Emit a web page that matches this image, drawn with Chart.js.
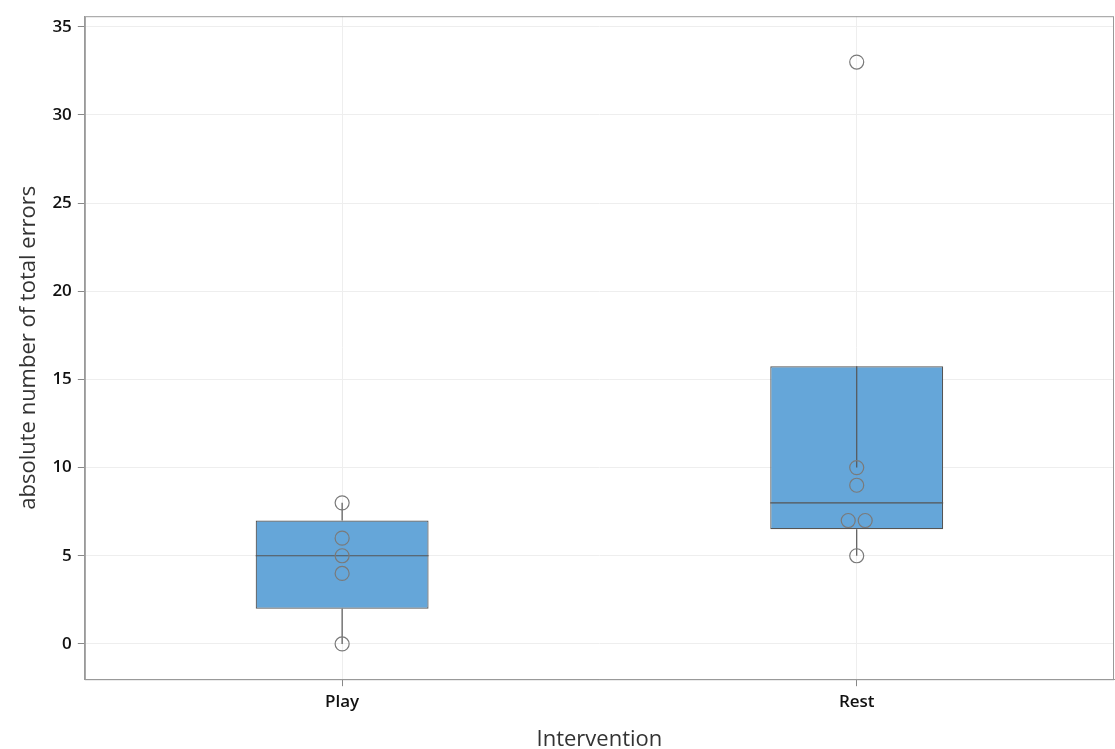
<!DOCTYPE html>
<html>
<head>
<meta charset="utf-8">
<script src="https://cdn.jsdelivr.net/npm/chart.js@4"></script>
<style>
  html, body { margin: 0; padding: 0; background: #fff; }
  #wrap { width: 1115px; height: 749px; }
</style>
</head>
<body>
<div id="wrap"><canvas id="boxChart"></canvas></div>
<script>
// ===== данные =====
const groups = ['Play', 'Rest'];
const q1 = [2, 6.5];
const q3 = [7, 15.75];
const medians = [5, 8];
const whiskerLow = [0, 5];
const whiskerHigh = [8, 10];
const playValues = [0, 4, 5, 6, 8];
const restValues = [5, 7, 7, 9, 10, 33];
const restJitter = [0, -0.0165, 0.0165, 0, 0, 0];
const yTicks = [0, 5, 10, 15, 20, 25, 30, 35];

const points = [
    ...playValues.map(v => ({ x: 0, y: v })),
    ...restValues.map((v, i) => ({ x: 1 + restJitter[i], y: v }))
];

// рамка, медианы и усы
const boxPlugin = {
    id: 'boxParts',
    afterDatasetDraw(chart, args) {
        if (args.index !== 0) return;
        const ctx = chart.ctx;
        const meta = chart.getDatasetMeta(0);
        const y = chart.scales.y;
        ctx.save();
        ctx.strokeStyle = '#555';
        ctx.lineWidth = 1.2;
        meta.data.forEach((bar, i) => {
            const half = bar.width / 2;
            ctx.beginPath();
            ctx.moveTo(bar.x - half, y.getPixelForValue(medians[i]));
            ctx.lineTo(bar.x + half, y.getPixelForValue(medians[i]));
            ctx.moveTo(bar.x, y.getPixelForValue(q1[i]));
            ctx.lineTo(bar.x, y.getPixelForValue(whiskerLow[i]));
            ctx.moveTo(bar.x, y.getPixelForValue(q3[i]));
            ctx.lineTo(bar.x, y.getPixelForValue(whiskerHigh[i]));
            ctx.stroke();
        });
        ctx.restore();
    },
    afterDraw(chart) {
        const a = chart.chartArea;
        const ctx = chart.ctx;
        ctx.save();
        ctx.strokeStyle = '#999';
        ctx.lineWidth = 1;
        ctx.strokeRect(a.left + 0.5, a.top + 0.5, a.right - a.left - 1, a.bottom - a.top);
        ctx.restore();
    }
};

new Chart(document.getElementById('boxChart'), {
    type: 'bar',
    data: {
        labels: groups,
        datasets: [{
            type: 'bar',
            data: q1.map((v, i) => [v, q3[i]]),
            backgroundColor: '#65a6d9',
            borderColor: '#555',
            borderWidth: 1.2,
            borderSkipped: false,
            grouped: false,
            barPercentage: 1,
            categoryPercentage: 0.336,
            order: 2
        }, {
            type: 'scatter',
            xAxisID: 'xp',
            data: points,
            pointStyle: 'circle',
            pointRadius: 7,
            pointBorderWidth: 1.2,
            pointBorderColor: '#7a7a7a',
            pointBackgroundColor: 'rgba(0,0,0,0)',
            order: 1
        }]
    },
    options: {
        responsive: true,
        maintainAspectRatio: false,
        animation: false,
        layout: { autoPadding: false, padding: { top: 12, right: 1, left: 12, bottom: -4 } },
        plugins: {
            legend: { display: false },
            tooltip: { enabled: false }
        },
        scales: {
            x: {
                offset: true,
                grid: { offset: false, color: '#eeeeee', tickColor: '#888', tickLength: 7 },
                border: { color: '#999' },
                ticks: { color: '#111', font: { family: 'Open Sans', size: 17, weight: '600' }, padding: 6 },
                title: {
                    display: true, text: 'Intervention', color: '#333',
                    font: { family: 'Open Sans', size: 22 }, padding: { top: 8, bottom: 0 }
                }
            },
            xp: {
                type: 'linear',
                display: false,
                offset: false,
                min: -0.5,
                max: 1.5
            },
            y: {
                min: -2,
                max: 35.6,
                grid: { color: '#eeeeee', tickColor: '#888', tickLength: 7 },
                border: { color: '#999' },
                afterBuildTicks: (axis) => { axis.ticks = yTicks.map(v => ({ value: v })); },
                ticks: { color: '#111', font: { family: 'Open Sans', size: 17, weight: '600' }, padding: 6 },
                title: {
                    display: true, text: 'absolute number of total errors', color: '#333',
                    font: { family: 'Open Sans', size: 22 }, padding: { bottom: 4 }
                }
            }
        }
    },
    plugins: [boxPlugin]
});
</script>
</body>
</html>
